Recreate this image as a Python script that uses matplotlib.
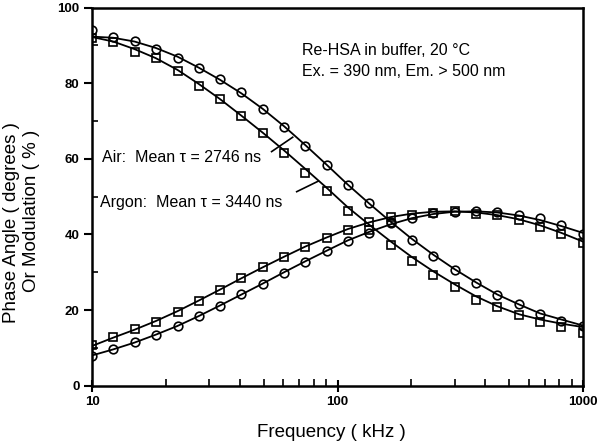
import matplotlib
matplotlib.use("Agg")
import matplotlib.pyplot as plt
from matplotlib.ticker import FixedLocator, NullFormatter, LogLocator

plt.rcParams['font.family'] = ['Liberation Sans', 'DejaVu Sans']

# Modulation frequencies (kHz)
freq = [10.0, 12.2, 14.9, 18.2, 22.3, 27.2, 33.2, 40.6, 49.6, 60.6, 74.0, 90.4,
        110, 135, 165, 201, 246, 300, 367, 448, 548, 669, 817, 1000]

# Air (circles)
phase_air = [7.9, 9.6, 11.5, 13.4, 15.8, 18.4, 21.1, 24.2, 26.9, 29.7, 32.8, 35.6,
             38.3, 40.4, 42.9, 44.4, 45.6, 46.0, 46.2, 46.0, 45.1, 44.4, 42.6, 40.2]
mod_air = [94.0, 92.3, 91.1, 88.9, 86.6, 83.9, 81.0, 77.7, 73.1, 68.5, 63.5, 58.4,
           53.1, 48.2, 43.2, 38.5, 34.3, 30.6, 27.1, 24.0, 21.6, 19.0, 17.0, 15.9]
phase_air_fit = [8.0, 9.6, 11.4, 13.5, 15.8, 18.4, 21.2, 24.1, 27.0, 30.0, 32.9, 35.7,
                 38.4, 40.7, 42.7, 44.3, 45.4, 46.0, 46.1, 45.8, 45.0, 43.8, 42.2, 40.4]
mod_air_fit = [92.3, 92.0, 91.0, 89.3, 87.0, 84.1, 80.9, 77.3, 73.2, 68.6, 63.6, 58.4,
               53.2, 48.1, 43.3, 38.8, 34.6, 30.8, 27.3, 24.1, 21.5, 19.1, 17.5, 15.9]

# Argon (squares)
phase_argon = [10.8, 12.8, 14.9, 16.9, 19.6, 22.5, 25.3, 28.4, 31.3, 33.9, 36.6, 39.0,
               41.3, 43.2, 44.5, 45.1, 45.7, 46.2, 45.4, 45.2, 43.7, 41.9, 40.0, 37.6]
mod_argon = [92.0, 91.0, 88.3, 86.6, 83.2, 79.3, 75.7, 71.3, 66.7, 61.4, 56.3, 51.5,
             46.3, 41.2, 37.1, 33.0, 29.3, 26.0, 22.7, 20.9, 18.7, 16.9, 15.4, 13.9]
phase_argon_fit = [10.5, 12.7, 14.8, 17.1, 19.7, 22.5, 25.4, 28.4, 31.3, 34.1, 36.8, 39.2,
                   41.4, 43.2, 44.6, 45.5, 46.0, 46.1, 45.8, 45.1, 44.0, 42.4, 40.4, 38.1]
mod_argon_fit = [92.2, 91.0, 89.0, 86.6, 83.5, 79.8, 75.8, 71.4, 66.9, 62.2, 57.3, 52.3,
                 47.2, 42.5, 38.1, 34.0, 30.2, 26.8, 23.6, 21.0, 18.9, 17.5, 16.4, 15.5]

x_ticks = [10, 100, 1000]
x_ticklabels = ["10", "100", "1000"]
y_ticks = [0, 20, 40, 60, 80, 100]

title_lines = ["Re-HSA in buffer, 20 \u00b0C", "Ex. = 390 nm, Em. > 500 nm"]
air_label = "Air:  Mean \u03c4 = 2746 ns"
argon_label = "Argon:  Mean \u03c4 = 3440 ns"

fig = plt.figure(figsize=(6.0, 4.45), dpi=100)
ax = fig.add_axes([92/600, 59.3/445, 491/600, 378.2/445])

lk = dict(color='black', lw=1.3, zorder=2)
ax.plot(freq, phase_air_fit, **lk)
ax.plot(freq, mod_air_fit, **lk)
ax.plot(freq, phase_argon_fit, **lk)
ax.plot(freq, mod_argon_fit, **lk)

mk_c = dict(ls='none', marker='o', ms=6.2, mfc='none', mec='black', mew=1.2, zorder=3)
mk_s = dict(ls='none', marker='s', ms=5.6, mfc='none', mec='black', mew=1.2, zorder=3)
ax.plot(freq, phase_air, **mk_c)
ax.plot(freq, mod_air, **mk_c)
ax.plot(freq, phase_argon, **mk_s)
ax.plot(freq, mod_argon, **mk_s)

ax.set_xscale('log')
ax.set_xlim(10, 1000)
ax.set_ylim(0, 100)
ax.xaxis.set_major_locator(FixedLocator(x_ticks))
ax.set_xticklabels(x_ticklabels)
ax.xaxis.set_minor_locator(LogLocator(base=10, subs=range(2, 10)))
ax.xaxis.set_minor_formatter(NullFormatter())
ax.set_yticks(y_ticks)
ax.yaxis.set_minor_locator(FixedLocator([10, 30, 50, 70, 90]))

for s in ax.spines.values():
    s.set_linewidth(1.8)

ax.tick_params(axis='x', which='major', direction='inout', length=9, width=1.5,
               labelsize=9.5, pad=3)
ax.tick_params(axis='x', which='minor', direction='in', length=5, width=1.2)
ax.tick_params(axis='y', which='major', direction='out', length=6, width=1.5,
               labelsize=9.5, pad=3)
ax.tick_params(axis='y', which='minor', direction='in', length=4, width=1.2)
for lab in ax.get_xticklabels() + ax.get_yticklabels():
    lab.set_fontweight('bold')

# Text annotations
ax.text(0.427, 0.874, title_lines[0], transform=ax.transAxes, fontsize=11.5, va='baseline')
ax.text(0.427, 0.819, title_lines[1], transform=ax.transAxes, fontsize=11.5, va='baseline')
ax.text(0.0198, 0.592, air_label, transform=ax.transAxes, fontsize=11.5, va='baseline')
ax.text(0.0163, 0.473, argon_label, transform=ax.transAxes, fontsize=11.5, va='baseline')

ax.plot([53.9, 65.7], [61.9, 65.7], color='black', lw=1.2)
ax.plot([68.2, 83.6], [51.3, 54.1], color='black', lw=1.2)

fig.text(0.553, 0.028, "Frequency ( kHz )", ha='center', va='center', fontsize=13.5)
fig.text(0.019, 0.50, "Phase Angle ( degrees )", rotation=90, ha='center', va='center', fontsize=13.5)
fig.text(0.052, 0.525, "Or Modulation ( % )", rotation=90, ha='center', va='center', fontsize=13.5)

fig.savefig("out.png", dpi=100)
